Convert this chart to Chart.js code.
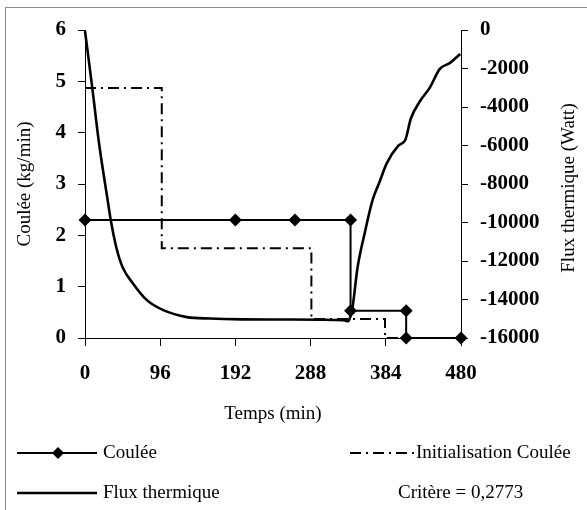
<!DOCTYPE html>
<html><head><meta charset="utf-8">
<script src="https://cdn.jsdelivr.net/npm/chart.js@4/dist/chart.umd.min.js"></script>
<style>html,body{margin:0;padding:0;background:#fff}</style>
</head><body>
<canvas id="c" width="587" height="510"></canvas>
<script>
// ---- data ----
const xTickValues = [0, 96, 192, 288, 384, 480];
const couleeX = [0, 192, 268, 339, 339, 410, 410, 480];
const couleeY = [2.3, 2.3, 2.3, 2.3, 0.53, 0.53, 0, 0];
const initX = [0, 98, 98, 289, 289, 383, 383, 480];
const initY = [4.87, 4.87, 1.75, 1.75, 0.37, 0.37, 0, 0];
const fluxT = [0, 9, 17, 23, 28, 33, 40, 48, 61, 79, 100, 130, 160, 200, 250, 300, 330, 336, 339, 341, 348, 357, 367, 376, 385, 400, 409, 416, 428, 440, 453, 466, 479];
const fluxW = [-50, -2900, -5600, -7300, -8600, -9900, -11300, -12325, -13154, -14034, -14552, -14915, -14990, -15030, -15040, -15050, -15080, -15130, -14850, -14552, -12325, -10565, -8855, -7900, -6940, -6007, -5700, -4600, -3677, -3004, -2020, -1709, -1243];
const legendLabels = ['Coulée', 'Initialisation Coulée', 'Flux thermique'];
const critereText = 'Critère = 0,2773';
const axisTitles = {x: 'Temps (min)', y: 'Coulée (kg/min)', y1: 'Flux thermique (Watt)'};

const pts = (xs, ys) => xs.map((x, i) => ({x, y: ys[i]}));
const SERIF = '"Liberation Serif", "Times New Roman", serif';
const DASHDOT = [11, 5, 2, 5];

const decor = {
  id: 'decor',
  afterDraw(chart) {
    const ctx = chart.ctx;
    const ca = chart.chartArea;
    ctx.save();
    // outer frame
    ctx.strokeStyle = '#888'; ctx.lineWidth = 1;
    ctx.strokeRect(5.5, 7.5, 600, 520);
    ctx.fillStyle = '#000';
    ctx.font = '19px ' + SERIF;
    ctx.textBaseline = 'middle';
    // x title
    ctx.textAlign = 'center';
    ctx.fillText(axisTitles.x, (ca.left + ca.right) / 2, 414);
    // y titles
    ctx.save(); ctx.translate(25, (ca.top + ca.bottom) / 2); ctx.rotate(-Math.PI / 2);
    ctx.fillText(axisTitles.y, 0, 0); ctx.restore();
    ctx.save(); ctx.translate(569, (ca.top + ca.bottom) / 2 + 4); ctx.rotate(-Math.PI / 2);
    ctx.fillText(axisTitles.y1, 0, 0); ctx.restore();
    // legend
    ctx.textAlign = 'left';
    ctx.strokeStyle = '#000';
    // Coulée
    ctx.lineWidth = 2; ctx.setLineDash([]);
    ctx.beginPath(); ctx.moveTo(17, 453); ctx.lineTo(97, 453); ctx.stroke();
    ctx.beginPath(); ctx.moveTo(58, 447); ctx.lineTo(64, 453); ctx.lineTo(58, 459); ctx.lineTo(52, 453); ctx.closePath(); ctx.fill();
    ctx.fillText(legendLabels[0], 103, 453);
    // Initialisation
    ctx.setLineDash(DASHDOT);
    ctx.beginPath(); ctx.moveTo(350, 453); ctx.lineTo(414, 453); ctx.stroke();
    ctx.setLineDash([]);
    ctx.fillText(legendLabels[1], 416, 453);
    // Flux
    ctx.lineWidth = 2.5;
    ctx.beginPath(); ctx.moveTo(17, 493); ctx.lineTo(97, 493); ctx.stroke();
    ctx.fillText(legendLabels[2], 103, 493);
    ctx.fillText(critereText, 398, 493);
    ctx.restore();
  }
};

const tickFont = {family: SERIF, size: 21, weight: 'bold'};
const plain = v => String(v);

new Chart(document.getElementById('c'), {
  type: 'line',
  data: {
    datasets: [
      {label: legendLabels[0], data: pts(couleeX, couleeY), yAxisID: 'y', borderColor: '#000', backgroundColor: '#000',
       borderWidth: 2, pointStyle: 'rectRot', pointRadius: 6.5, pointBorderWidth: 0, tension: 0, clip: false},
      {label: legendLabels[1], data: pts(initX, initY), yAxisID: 'y', borderColor: '#000', borderWidth: 2,
       borderDash: DASHDOT, pointRadius: 0, tension: 0, clip: false},
      {label: legendLabels[2], data: pts(fluxT, fluxW), yAxisID: 'y1', borderColor: '#000', borderWidth: 2.6,
       pointRadius: 0, cubicInterpolationMode: 'monotone', clip: false}
    ]
  },
  options: {
    responsive: false, animation: false, devicePixelRatio: 1,
    layout: {padding: {top: 30, left: 0, right: 0, bottom: 0}},
    plugins: {legend: {display: false}, tooltip: {enabled: false}},
    scales: {
      x: {type: 'linear', position: 'bottom', min: 0, max: 480,
          afterBuildTicks: s => { s.ticks = xTickValues.map(v => ({value: v})); },
          ticks: {font: tickFont, color: '#000', padding: 15, maxRotation: 0, autoSkip: false, callback: plain},
          grid: {drawOnChartArea: false, tickLength: 8, color: '#000'},
          border: {color: '#000', width: 1},
          afterFit: s => { s.height = 172; }},
      y: {position: 'left', min: 0, max: 6,
          ticks: {stepSize: 1, font: tickFont, color: '#000', padding: 12, callback: plain},
          grid: {drawOnChartArea: false, tickLength: 7, color: '#000'},
          border: {color: '#000', width: 1},
          afterFit: s => { s.width = 85; }},
      y1: {position: 'right', min: -16000, max: 0,
          ticks: {stepSize: 2000, font: tickFont, color: '#000', padding: 12, callback: plain},
          grid: {drawOnChartArea: false, tickLength: 7, color: '#000'},
          border: {color: '#000', width: 1},
          afterFit: s => { s.width = 126; }}
    }
  },
  plugins: [decor]
});
</script>
</body></html>
